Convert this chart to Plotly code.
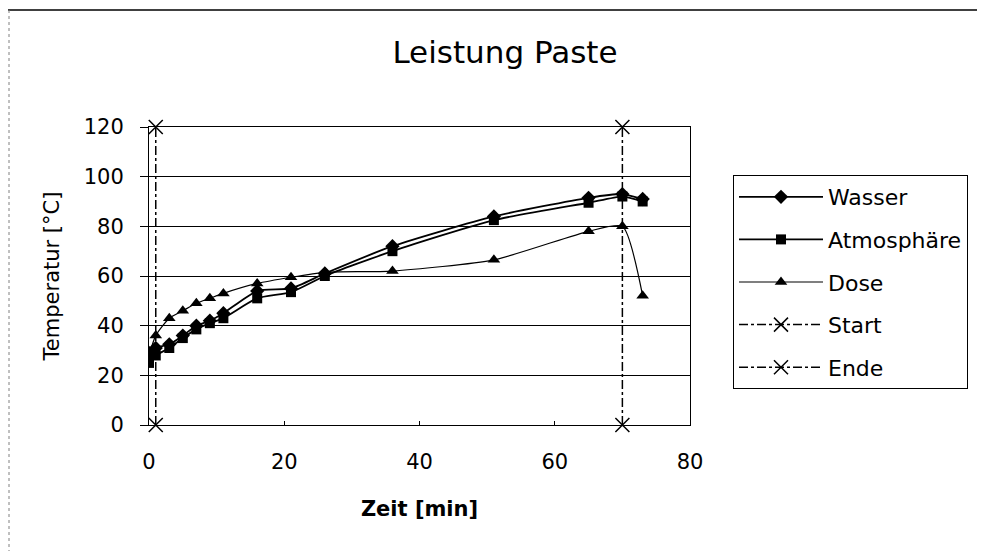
import plotly.graph_objects as go

zeit = [0, 1, 3, 5, 7, 9, 11, 16, 21, 26, 36, 51, 65, 70, 73]
wasser = [29, 31, 32.5, 36, 40, 42, 45, 54, 55, 61, 72, 84, 91.5, 93, 91]
atmosphaere = [25, 28, 31, 35, 38.5, 41, 43, 51, 53.5, 60, 70, 82.5, 89.5, 92, 90]
dose = [28, 36, 43, 46, 49, 51, 53, 57, 59.5, 61.5, 62, 66.5, 78, 80, 52]
start_x = [1, 1]
start_y = [0, 120]
ende_x = [70, 70]
ende_y = [0, 120]

FONT = "DejaVu Sans"
# The page body adds an 8 px offset, so the figure is sized/positioned to compensate.
W, H = 977, 543
L, R, T, B = 141, 295, 119, 126
pw = W - L - R
ph = H - T - B

fig = go.Figure()
line_style = dict(color="black", width=1.8, shape="spline", smoothing=0.6)
fig.add_trace(go.Scatter(x=zeit, y=wasser, name="Wasser", mode="lines+markers",
                         line=line_style, legendgroup="a",
                         marker=dict(symbol="diamond", size=11, color="black")))
fig.add_trace(go.Scatter(x=zeit, y=atmosphaere, name="Atmosphäre", mode="lines+markers",
                         line=line_style, legendgroup="b",
                         marker=dict(symbol="square", size=10, color="black")))
fig.add_trace(go.Scatter(x=zeit, y=dose, name="Dose", mode="lines+markers",
                         line=dict(color="black", width=1.2, shape="spline", smoothing=0.6),
                         legendgroup="c",
                         marker=dict(symbol="triangle-up", size=11, color="black")))
fig.add_trace(go.Scatter(x=start_x, y=start_y, name="Start", mode="lines+markers",
                         line=dict(color="black", width=1.5, dash="dashdot"), legendgroup="d",
                         cliponaxis=False,
                         marker=dict(symbol="x-thin", size=14, color="black",
                                     line=dict(color="black", width=1.5))))
fig.add_trace(go.Scatter(x=ende_x, y=ende_y, name="Ende", mode="lines+markers",
                         line=dict(color="black", width=1.5, dash="dashdot"), legendgroup="e",
                         cliponaxis=False,
                         marker=dict(symbol="x-thin", size=14, color="black",
                                     line=dict(color="black", width=1.5))))

fig.update_layout(
    width=W, height=H,
    margin=dict(l=L, r=R, t=T, b=B),
    paper_bgcolor="white", plot_bgcolor="white",
    font=dict(family=FONT, color="black", size=21),
    title=dict(text="Leistung Paste", x=497/W, xanchor="center", y=1-44/H, yanchor="middle",
               font=dict(family=FONT, size=31, color="black")),
    xaxis=dict(range=[0, 80], tickvals=[0, 20, 40, 60, 80], showgrid=False,
               showline=True, linecolor="black", linewidth=1, mirror=True,
               ticks="inside", ticklen=4, tickcolor="black", automargin=False,
               tickfont=dict(size=21), zeroline=False, ticklabelstandoff=18,
               title=dict(text="<b>Zeit [min]</b>", font=dict(size=21), standoff=28)),
    yaxis=dict(range=[0, 120], tickvals=[0, 20, 40, 60, 80, 100, 120], showgrid=True,
               gridcolor="black", gridwidth=1, showline=True, linecolor="black",
               linewidth=1, mirror=True, ticks="outside", ticklen=8, tickcolor="black",
               tickfont=dict(size=21), zeroline=False, ticklabelstandoff=12,
               automargin=False,
               title=dict(text="Temperatur [°C]", font=dict(size=21), standoff=18)),
    legend=dict(x=(725-L)/pw, y=(417-167)/ph, xanchor="left", yanchor="top",
                bordercolor="black", borderwidth=1, bgcolor="white",
                font=dict(size=22), tracegroupgap=11, itemwidth=84),
    showlegend=True,
)

# outer chart border (top and left edges, as in the scan)
fig.add_shape(type="line", xref="paper", yref="paper",
              x0=(0-L)/pw, x1=(W-L)/pw, y0=(417-2)/ph, y1=(417-2)/ph,
              line=dict(color="black", width=1.5))
fig.add_shape(type="line", xref="paper", yref="paper",
              x0=(1-L)/pw, x1=(1-L)/pw, y0=(417-2)/ph, y1=(417-H)/ph,
              line=dict(color="gray", width=1, dash="dot"))

fig.write_html("out.html")
